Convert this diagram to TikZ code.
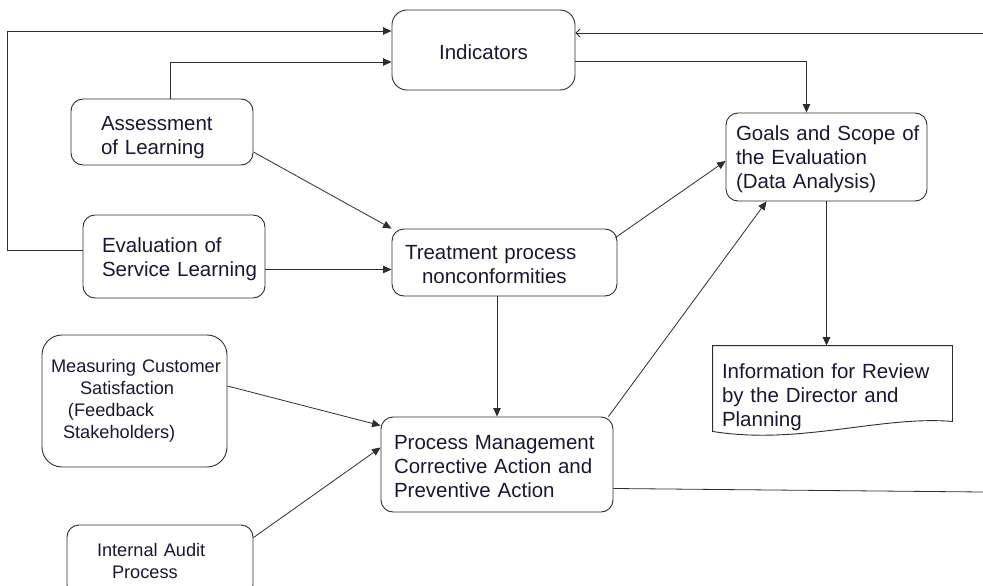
\documentclass[tikz,border=0pt]{standalone}
\usepackage{fontspec}
\setmainfont{Liberation Sans}
\usetikzlibrary{arrows.meta}
\definecolor{txt}{RGB}{25,25,45}
\definecolor{ln}{RGB}{45,45,45}
\newcommand{\vpad}[1]{\rule{0pt}{#1}}
\begin{document}
\begin{tikzpicture}[x=1pt,y=-1pt,
  box/.style={draw=ln, line width=0.9pt, rounded corners=12pt, inner sep=0pt,
    font=\fontsize{20.5}{24}\selectfont, text=txt},
  small/.style={font=\fontsize{18.2}{22}\selectfont},
  conn/.style={draw=ln, line width=0.8pt},
  arr/.style={conn, -{Triangle[length=8.5pt,width=7.5pt]}}
]
\useasboundingbox (0,0) rectangle (983,586);
\clip (0,0) rectangle (983,586);

\node[box, rounded corners=15pt, minimum width=183pt, minimum height=80pt] (ind) at (483.5,50) {\vpad{19pt}Indicators};
\node[box, minimum width=182pt, minimum height=66pt, text width=122pt, inner xsep=30pt, align=left] (assess) at (162,132) {\mbox{\vpad{24.7pt}Assessment}\\\mbox{of Learning}};
\node[box, minimum width=182pt, minimum height=83pt, text width=144pt, inner xsep=19pt, align=left] (eval) at (174,256.5) {\mbox{\vpad{21pt}Evaluation of}\\\mbox{Service Learning}};
\node[box, minimum width=225pt, minimum height=67pt, text width=199pt, inner xsep=13pt, align=left] (treat) at (504.5,262.5) {\mbox{\vpad{19pt}Treatment process}\\\hspace*{17pt}\mbox{nonconformities}};
\node[box, minimum width=201pt, minimum height=88pt, text width=181pt, inner xsep=10pt, align=left] (goals) at (826.5,157) {\mbox{\vpad{19pt}Goals and Scope of}\\\mbox{the Evaluation}\\\mbox{(Data Analysis)}};
\node[box, draw=none, minimum width=239pt, minimum height=92pt, text width=221pt, inner xsep=9pt, align=left] (info) at (832.5,392) {\mbox{\vpad{25pt}Information for Review}\\\mbox{by the Director and}\\\mbox{Planning}};
\draw[draw=ln, line width=0.9pt] (info.north west) -- (info.north east) -- ([yshift=17pt]info.south east)
  .. controls ([xshift=-72pt,yshift=23pt]info.south east) and ([xshift=87pt,yshift=-7pt]info.south west) .. ([yshift=7pt]info.south west) -- cycle;
\node[box, small, rounded corners=20pt, minimum width=185pt, minimum height=132pt, text width=167pt, inner xsep=9pt, align=left] (meas) at (134.5,401) {\mbox{Measuring Customer}\\\hspace*{29pt}\mbox{Satisfaction}\\\hspace*{17pt}\mbox{(Feedback}\\\hspace*{12pt}\mbox{Stakeholders)}};
\node[box, minimum width=232pt, minimum height=95pt, text width=206pt, inner xsep=13pt, align=left] (proc) at (497,464.5) {\mbox{\vpad{18pt}Process Management}\\\mbox{Corrective Action and}\\\mbox{Preventive Action}};
\node[box, small, minimum width=186pt, minimum height=72pt, text width=126pt, inner xsep=30pt, align=left] (audit) at (160,561) {\mbox{Internal Audit}\\\hspace*{15pt}\mbox{Process}};

\coordinate (rin) at (983,33);
\coordinate (rout) at (983,492);

\draw[arr] ([yshift=6.5pt]eval.west) -- ++(-75,0) |- ([yshift=19pt]ind.west);
\draw[arr] ([xshift=8pt]assess.north) |- ([yshift=-12pt]ind.west);
\draw[conn, -{Straight Barb[length=4pt,width=8pt]}] (rin) -- (rin -| ind.east);
\draw[arr] ([yshift=-11pt]ind.east) -| ([xshift=-20pt]goals.north);
\draw[arr] ([yshift=-20pt]assess.east) -- (treat.north west);
\coordinate (e1) at ([yshift=-13pt]eval.east);
\draw[arr] (e1) -- (e1 -| treat.west);
\draw[arr] ([xshift=-2pt,yshift=-9pt]treat.north east) -- ([yshift=-4pt]goals.west);
\draw[arr] (treat.south -| proc.north) -- (proc.north);
\draw[arr] ([xshift=-5pt]proc.north east) -- ([xshift=-60pt]goals.south);
\draw[arr] (goals.south) -- (goals.south |- info.north);
\draw[arr] ([yshift=15pt]meas.east) -- ([yshift=-9pt]proc.north west);
\draw[arr] ([yshift=-13pt]audit.north east) -- ([yshift=17pt]proc.west);
\draw[conn] ([yshift=-24pt]proc.east) -- (rout);
\end{tikzpicture}
\end{document}
